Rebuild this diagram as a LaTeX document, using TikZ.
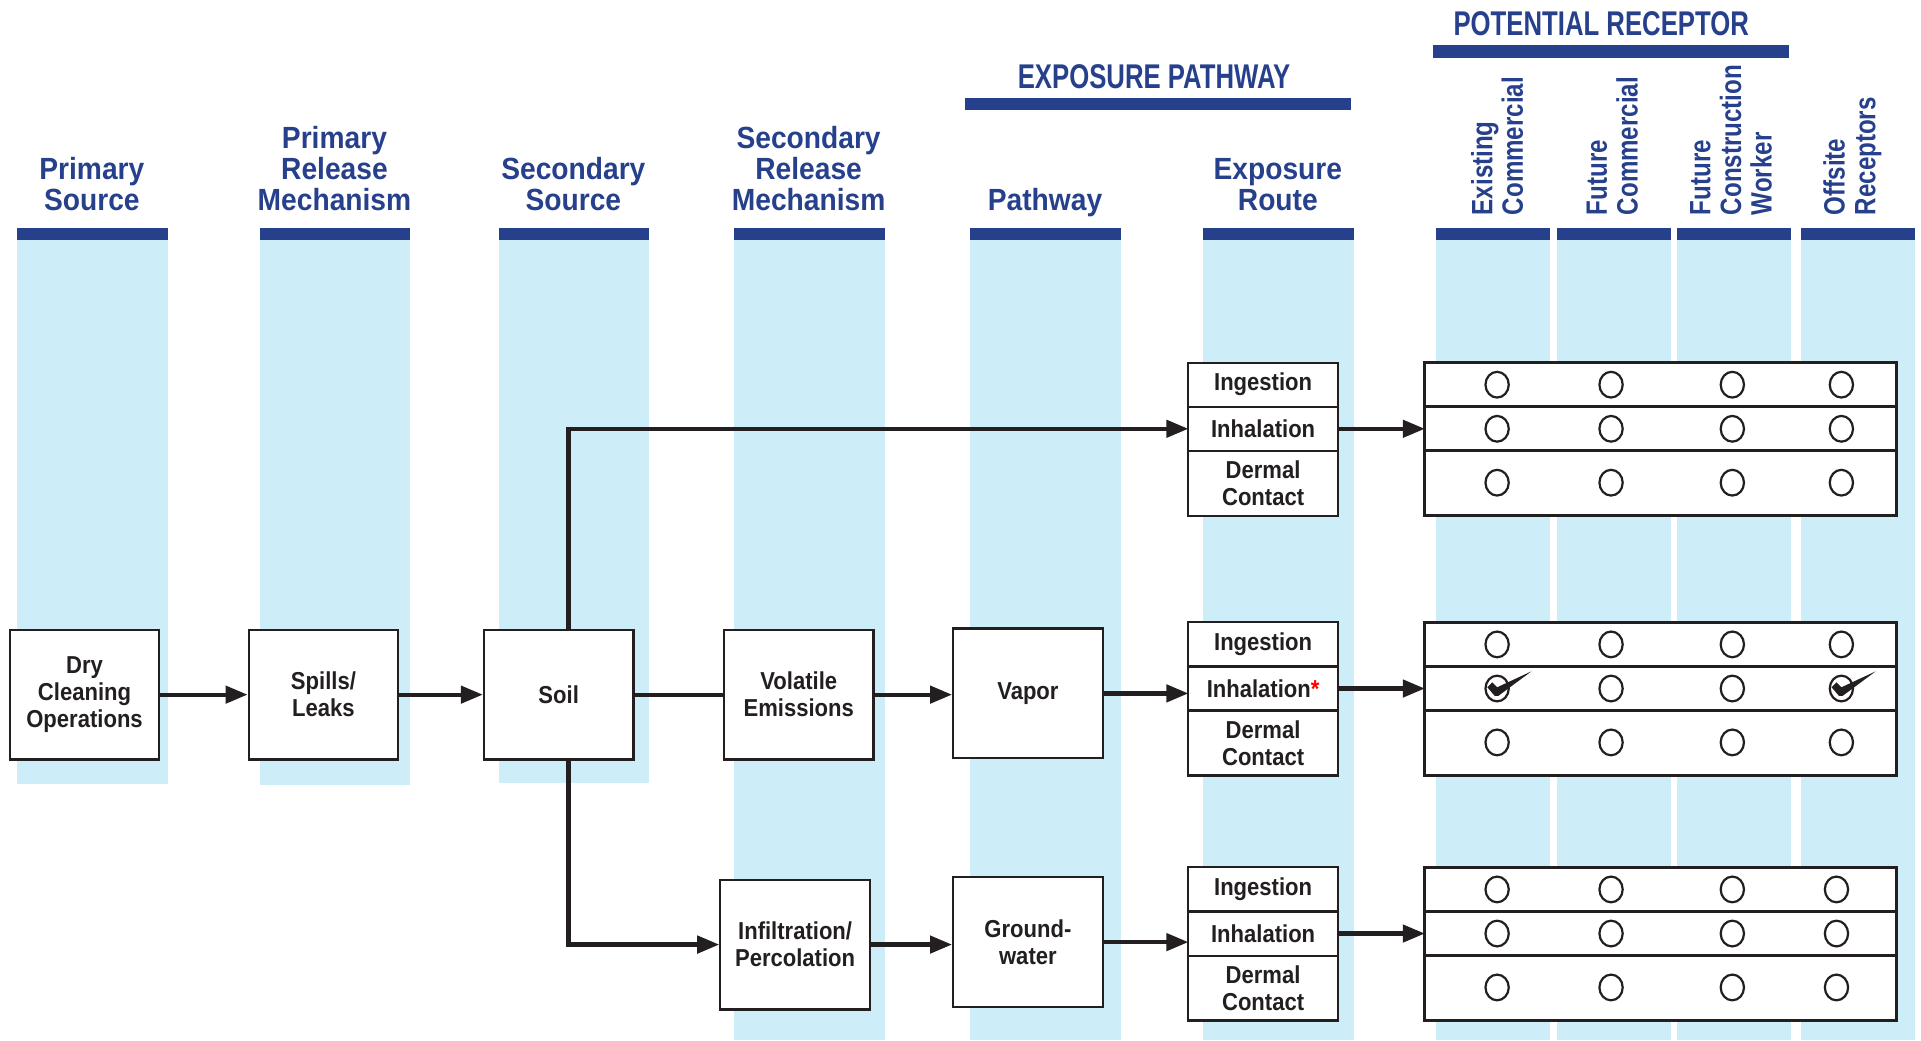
\documentclass[tikz,border=0pt]{standalone}
\usepackage{fontspec}
\setmainfont{Liberation Sans}
\newfontfamily\boxfont[FakeStretch=0.9]{Liberation Sans}
\newfontfamily\headfont[FakeStretch=0.92]{Liberation Sans}
\newfontfamily\titlefont[FakeStretch=0.75]{Liberation Sans}
\newfontfamily\recpfont[FakeStretch=0.82]{Liberation Sans}
\usetikzlibrary{arrows.meta, positioning, shapes.geometric}
\definecolor{colblue}{RGB}{205,237,249}
\definecolor{barblue}{RGB}{38,64,140}
\definecolor{inkgrey}{RGB}{35,31,32}

\begin{document}
\begin{tikzpicture}[x=0.5pt, y=-0.5pt,
    head/.style={anchor=south, align=center, inner sep=0pt, text depth=0pt, text=barblue,
        font=\headfont\bfseries\fontsize{12.5}{12.5}\selectfont},
    bigtitle/.style={anchor=south, inner sep=0pt, text depth=0pt, text=barblue,
        font=\titlefont\bfseries\fontsize{14}{14}\selectfont},
    recp/.style={rotate=90, anchor=west, align=left, inner sep=0pt, text=barblue,
        font=\recpfont\bfseries\fontsize{12}{12.5}\selectfont},
    box/.style={draw=inkgrey, line width=0.9pt, fill=white, minimum width=61pt, minimum height=53pt,
        align=center, inner sep=0pt, text=inkgrey, font=\boxfont\bfseries\fontsize{10}{11}\selectfont},
    route/.style={draw=inkgrey, line width=0.9pt, fill=white, minimum width=61pt, minimum height=18pt,
        outer sep=0pt, align=center, inner sep=0pt, text=inkgrey, font=\boxfont\bfseries\fontsize{10}{11}\selectfont},
    rrow/.style={draw=inkgrey, line width=1.3pt, fill=white, minimum width=192.5pt, minimum height=18pt,
        outer sep=0pt, inner sep=0pt},
    rcirc/.style={draw=inkgrey, line width=0.9pt, ellipse, minimum width=9.5pt, minimum height=10.5pt, inner sep=0pt},
    arr/.style={draw=inkgrey, line width=1.7pt, -{Triangle[length=9pt, width=7pt]}},
    conn/.style={draw=inkgrey, line width=1.7pt}
]
\useasboundingbox (0,0) rectangle (1568,849);

% columns
\foreach \xa/\xb/\yb in {14/137/640, 212/335/641, 407/530/639, 599/722/849, 792/915/849,
        982/1105/849, 1172/1265/849, 1271/1364/849, 1369/1462/849, 1470/1563/849} {
    \fill[colblue] (\xa,196) rectangle (\xb,\yb);
    \fill[barblue] (\xa,186) rectangle (\xb,196);
}

% headings
\node[head] (hPS) at (75,172) {Primary\\Source};
\node[head] (hPRM) at (273,172) {Primary\\Release\\Mechanism};
\node[head] (hSS) at (468,172) {Secondary\\Source};
\node[head] (hSRM) at (660,172) {Secondary\\Release\\Mechanism};
\node[head] (hPW) at (853,172) {Pathway};
\node[head] (hER) at (1043,172) {Exposure\\Route};

\node[bigtitle] (tEP) at (942,73) {EXPOSURE PATHWAY};
\fill[barblue] (788,80) rectangle (1103,90);
\node[bigtitle] (tPR) at (1307,29) {POTENTIAL RECEPTOR};
\fill[barblue] (1170,37) rectangle (1460,47);

\node[recp] (rEC) at (1222,176) {Existing\\Commercial};
\node[recp] (rFC) at (1316,176) {Future\\Commercial};
\node[recp] (rFW) at (1413,176) {Future\\Construction\\Worker};
\node[recp] (rOR) at (1512,176) {Offsite\\Receptors};

% source and release boxes
\node[box] (dry) at (69,567) {Dry\\Cleaning\\Operations};
\node[box] (spills) at (264,567) {Spills/\\Leaks};
\node[box] (soil) at (456,567) {Soil};
\node[box] (volat) at (652,567) {Volatile\\Emissions};
\node[box] (vapor) at (839,566) {Vapor};
\node[box] (infil) at (649,771) {Infiltration/\\Percolation};
\node[box] (gwater) at (839,769) {Ground-\\water};

% exposure routes
\node[route] (ing1) at (1031,314) {Ingestion};
\node[route, below=0pt of ing1] (inh1) {Inhalation};
\node[route, minimum height=26.5pt, below=0pt of inh1] (der1) {Dermal\\Contact};
\node[route] (ing2) at (1031,526) {Ingestion};
\node[route, below=0pt of ing2] (inh2) {Inhalation\textcolor{red}{*}};
\node[route, minimum height=26.5pt, below=0pt of inh2] (der2) {Dermal\\Contact};
\node[route] (ing3) at (1031,726) {Ingestion};
\node[route, below=0pt of ing3] (inh3) {Inhalation};
\node[route, minimum height=26.5pt, below=0pt of inh3] (der3) {Dermal\\Contact};

% receptor tables
\node[rrow] (rIng1) at (1355.5,314) {};
\node[rrow, below=0pt of rIng1] (rInh1) {};
\node[rrow, minimum height=26.5pt, below=0pt of rInh1] (rDer1) {};
\node[rrow] (rIng2) at (1355.5,526) {};
\node[rrow, below=0pt of rIng2] (rInh2) {};
\node[rrow, minimum height=26.5pt, below=0pt of rInh2] (rDer2) {};
\node[rrow] (rIng3) at (1355.5,726) {};
\node[rrow, below=0pt of rIng3] (rInh3) {};
\node[rrow, minimum height=26.5pt, below=0pt of rInh3] (rDer3) {};

\foreach \cy in {314,350,394,526,562,606}
    \foreach \cx in {1222,1315,1414,1503}
        \node[rcirc] (o-\cx-\cy) at (\cx,\cy) {};
\foreach \cy in {726,762,806}
    \foreach \cx in {1222,1315,1414,1499}
        \node[rcirc] (o-\cx-\cy) at (\cx,\cy) {};

% check marks
\foreach \cx in {1222,1503}
    \fill[inkgrey, shift={(o-\cx-562.center)}]
        (-8,-1) -- (-4,-5) -- (0,-1) -- (28,-14) -- (1,6) -- (-2,6) -- cycle;

% connectors
\draw[arr] (dry) -- (spills);
\draw[arr] (spills) -- (soil);
\draw[conn] (soil) -- (volat);
\draw[arr] (volat) -- (volat -| vapor.west);
\draw[arr] (vapor) -- (vapor -| inh2.west);
\draw[arr] ([xshift=4pt]soil.north) |- (inh1.west);
\draw[arr] ([xshift=4pt]soil.south) |- (infil.west);
\draw[arr] (infil) -- (infil -| gwater.west);
\draw[arr] (gwater) -- (gwater -| inh3.west);
\draw[arr] (inh1) -- (rInh1);
\draw[arr] (inh2) -- (rInh2);
\draw[arr] (inh3) -- (rInh3);
\end{tikzpicture}
\end{document}
